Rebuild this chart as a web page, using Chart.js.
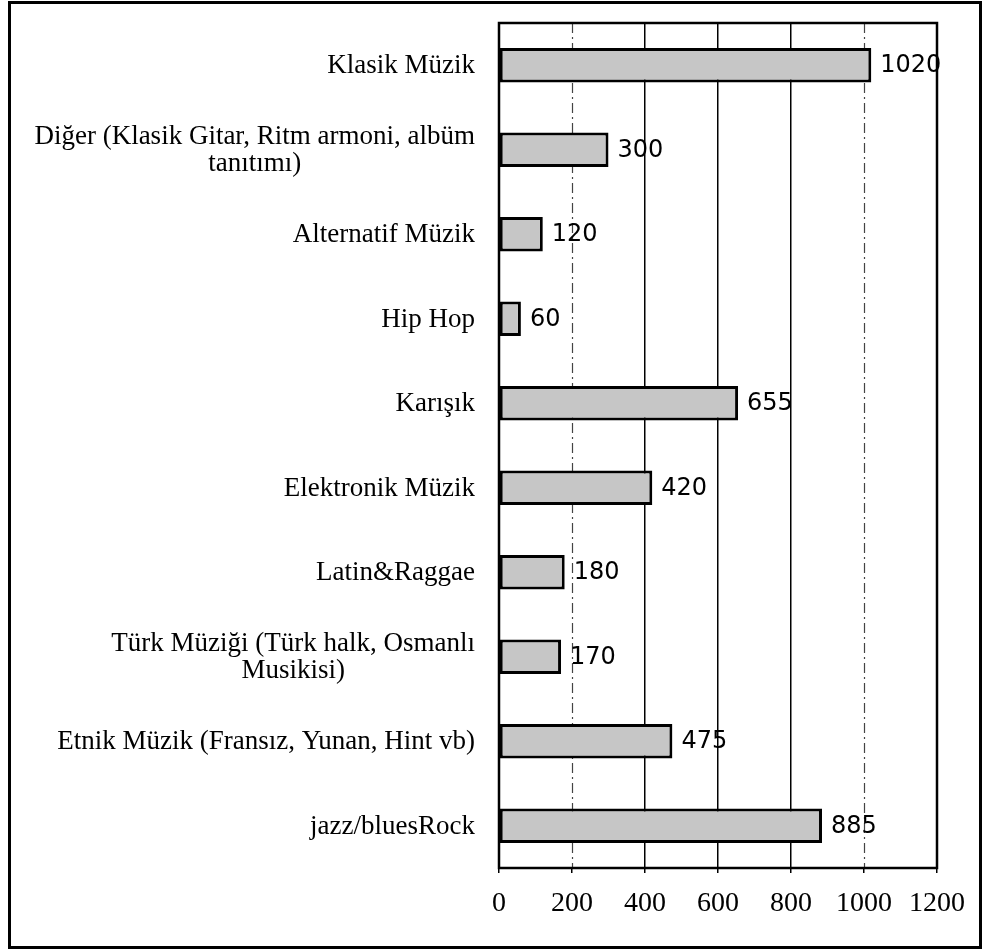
<!DOCTYPE html>
<html>
<head>
<meta charset="utf-8">
<script src="https://cdn.jsdelivr.net/npm/chart.js@4.4.1/dist/chart.umd.min.js"></script>
<style>
html,body{margin:0;padding:0;background:#fff;}
canvas{display:block;}
</style>
</head>
<body>
<canvas id="c" width="984" height="951"></canvas>
<script>
const categories = [
  ["Klasik Müzik"],
  ["Diğer (Klasik Gitar, Ritm armoni, albüm", "tanıtımı)"],
  ["Alternatif Müzik"],
  ["Hip Hop"],
  ["Karışık"],
  ["Elektronik Müzik"],
  ["Latin&Raggae"],
  ["Türk Müziği (Türk halk, Osmanlı", "Musikisi)"],
  ["Etnik Müzik (Fransız, Yunan, Hint vb)"],
  ["jazz/bluesRock"]
];
const values = [1020, 300, 120, 60, 655, 420, 180, 170, 475, 885];
const xTicks = [0, 200, 400, 600, 800, 1000, 1200];
const dashedTicks = [200, 1000];

const SERIF = '"Liberation Serif", "Times New Roman", serif';
const SANS = '"DejaVu Sans", Verdana, sans-serif';

const decorPlugin = {
  id: 'decor',
  beforeDraw(chart) {
    const ctx = chart.ctx;
    ctx.save();
    ctx.fillStyle = '#fff';
    ctx.fillRect(0, 0, chart.width, chart.height);
    ctx.restore();
  },
  beforeDatasetsDraw(chart) {
    const ctx = chart.ctx, a = chart.chartArea, x = chart.scales.x;
    ctx.save();
    ctx.strokeStyle = '#444';
    ctx.lineWidth = 1.2;
    ctx.setLineDash([10, 4, 2, 4]);
    dashedTicks.forEach(v => {
      const px = Math.round(x.getPixelForValue(v)) + 0.5;
      ctx.beginPath();
      ctx.moveTo(px, a.top);
      ctx.lineTo(px, a.bottom);
      ctx.stroke();
    });
    ctx.restore();
  },
  afterDatasetsDraw(chart) {
    const ctx = chart.ctx, a = chart.chartArea, y = chart.scales.y;
    const meta = chart.getDatasetMeta(0);
    ctx.save();
    // data labels
    ctx.fillStyle = '#000';
    ctx.font = '24px ' + SANS;
    ctx.textAlign = 'left';
    ctx.textBaseline = 'middle';
    meta.data.forEach((el, i) => {
      ctx.fillText(String(values[i]), el.x + 9, el.y + 1);
    });
    // category labels
    ctx.font = '27px ' + SERIF;
    ctx.textBaseline = 'middle';
    ctx.textAlign = 'center';
    const right = a.left - 24;
    const lh = 27;
    categories.forEach((lines, i) => {
      const cy = y.getPixelForValue(i);
      const w = Math.max(...lines.map(l => ctx.measureText(l).width));
      const cx = right - w / 2;
      const y0 = cy - (lines.length - 1) * lh / 2;
      lines.forEach((l, j) => ctx.fillText(l, cx, y0 + j * lh + 1));
    });
    // plot border
    ctx.strokeStyle = '#000';
    ctx.lineWidth = 2.5;
    ctx.setLineDash([]);
    ctx.strokeRect(a.left, a.top, a.right - a.left, a.bottom - a.top);
    // outer frame
    ctx.lineWidth = 3;
    ctx.strokeRect(9.5, 2.5, 971, 945);
    ctx.restore();
  }
};

new Chart(document.getElementById('c'), {
  type: 'bar',
  data: {
    labels: categories,
    datasets: [{
      data: values,
      backgroundColor: '#c6c6c6',
      borderColor: '#000',
      borderWidth: 3,
      borderSkipped: false,
      barPercentage: 0.41,
      categoryPercentage: 1
    }]
  },
  options: {
    indexAxis: 'y',
    responsive: false,
    animation: false,
    devicePixelRatio: 1,
    layout: { padding: { top: 23, right: 47, bottom: 0, left: 0 } },
    plugins: { legend: { display: false }, tooltip: { enabled: false } },
    scales: {
      x: {
        type: 'linear',
        min: 0,
        max: 1200,
        afterBuildTicks: s => { s.ticks = xTicks.map(v => ({ value: v })); },
        afterFit: s => { s.height = 83; },
        grid: {
          color: c => (c.tick && [400, 600, 800].includes(c.tick.value)) ? '#000' : 'rgba(0,0,0,0)',
          lineWidth: 1.5,
          tickColor: '#000',
          tickLength: 5,
          drawOnChartArea: true
        },
        border: { display: false },
        ticks: {
          color: '#000',
          font: { family: SERIF, size: 28 },
          padding: 14,
          maxRotation: 0,
          autoSkip: false,
          callback: v => String(v)
        }
      },
      y: {
        afterFit: s => { s.width = 499; },
        grid: { display: false },
        border: { display: false },
        ticks: { display: false }
      }
    }
  },
  plugins: [decorPlugin]
});
</script>
</body>
</html>
